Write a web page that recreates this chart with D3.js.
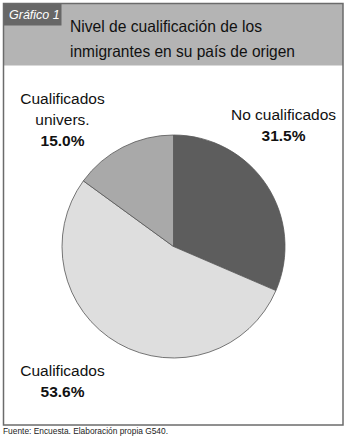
<!DOCTYPE html>
<html>
<head>
<meta charset="utf-8">
<script src="https://cdn.jsdelivr.net/npm/d3@7"></script>
<style>
  body { margin: 0; background: #fff; }
  svg { display: block; font-family: "Liberation Sans", Arial, sans-serif; }
</style>
</head>
<body>
<div id="chart"></div>
<script>
// data
var categories = ["No cualificados", "Cualificados", "Cualificados univers."]
var labelLines = [["No cualificados"], ["Cualificados"], ["Cualificados", "univers."]]
var values = [31.5, 53.6, 15.0]
var colors = ["#5d5d5d", "#dedede", "#a9a9a9"]

var chartTitle = ["Nivel de cualificación de los", "inmigrantes en su país de origen"]
var chartTag = "Gráfico 1"
var source = "Fuente: Encuesta. Elaboración propia G540."

var W = 346, H = 445
var frame = {x: 3.5, y: 3.5, w: 339.5, h: 421.5}
var headerH = 62

var svg = d3.select("#chart").append("svg")
  .attr("width", W)
  .attr("height", H)

// header band
svg.append("rect")
  .attr("x", frame.x).attr("y", frame.y)
  .attr("width", frame.w).attr("height", headerH)
  .attr("fill", "#b4b4b4")

svg.append("rect")
  .attr("x", frame.x).attr("y", frame.y)
  .attr("width", 58).attr("height", 22)
  .attr("fill", "#676767")

svg.append("text")
  .attr("x", 9).attr("y", 19)
  .attr("fill", "#fff")
  .attr("font-size", 12.5)
  .attr("font-style", "italic")
  .text(chartTag)

var titleWidths = [192, 225]
svg.selectAll("text.title")
  .data(chartTitle)
  .join("text")
  .attr("class", "title")
  .attr("x", 70)
  .attr("y", (d, i) => 32 + i * 25)
  .attr("font-size", 16.5)
  .attr("fill", "#111")
  .attr("textLength", (d, i) => titleWidths[i])
  .attr("lengthAdjust", "spacingAndGlyphs")
  .text(d => d)

// frame
svg.append("rect")
  .attr("x", frame.x).attr("y", frame.y)
  .attr("width", frame.w).attr("height", frame.h)
  .attr("fill", "none")
  .attr("stroke", "#6b6b6b")
  .attr("stroke-width", 1.5)

// pie
var cx = 173.5, cy = 246.5, radius = 111.5

var pie = d3.pie().sort(null).value(d => d)
var arc = d3.arc().innerRadius(0).outerRadius(radius)

var g = svg.append("g").attr("transform", `translate(${cx},${cy})`)

g.selectAll("path")
  .data(pie(values))
  .join("path")
  .attr("d", arc)
  .attr("fill", (d, i) => colors[i])
  .attr("stroke", "#555")
  .attr("stroke-width", 0.8)

// labels: offset of each label block from pie centre
var labelPos = [[110, -127], [-111, 129], [-111, -143]]
var fmt = d3.format(".1f")

categories.forEach(function(c, i) {
  var lines = labelLines[i]
  var t = g.append("text")
    .attr("text-anchor", "middle")
    .attr("font-size", 15.5)
    .attr("fill", "#111")
  lines.forEach(function(l, j) {
    t.append("tspan")
      .attr("x", labelPos[i][0])
      .attr("y", labelPos[i][1] + j * 21)
      .text(l)
  })
  t.append("tspan")
    .attr("x", labelPos[i][0])
    .attr("y", labelPos[i][1] + lines.length * 21)
    .attr("font-weight", "bold")
    .text(fmt(values[i]) + "%")
})

svg.append("text")
  .attr("x", 3).attr("y", 434)
  .attr("font-size", 8.5)
  .attr("fill", "#222")
  .attr("textLength", 165)
  .attr("lengthAdjust", "spacingAndGlyphs")
  .text(source)
</script>
</body>
</html>
